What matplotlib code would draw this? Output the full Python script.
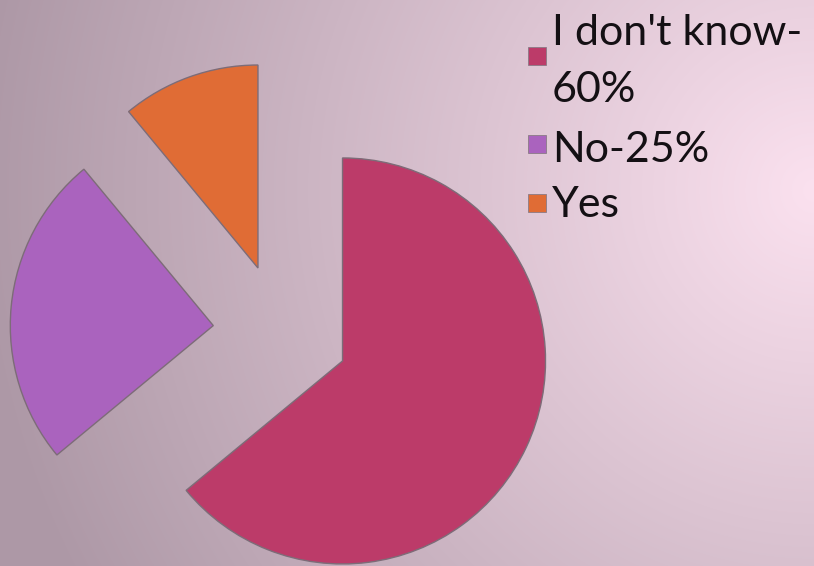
import matplotlib
matplotlib.use('Agg')
import matplotlib.pyplot as plt
import matplotlib.patches as mpatches
import numpy as np
from matplotlib.colors import to_rgb

# data
labels = ["I don't know-\n60%", "No-25%", "Yes"]
values = [64, 25, 11]
colors = ['#BC3B69', '#AA63BE', '#E06C35']

W, H = 814, 566
fig = plt.figure(figsize=(W / 100, H / 100), dpi=100)

# background: radial gradient, light pink at right, greyish mauve at left
bg = fig.add_axes([0, 0, 1, 1])
bg.axis('off')
yy, xx = np.mgrid[0:H, 0:W]
d = np.sqrt((xx - 814) ** 2 + (yy - 190) ** 2) / 840
d = np.clip(d, 0, 1)[..., None]
c0 = np.array(to_rgb('#FBE1EF'))
c1 = np.array(to_rgb('#AD98A6'))
img = c0 * (1 - d) + c1 * d
bg.imshow(img, extent=[0, W, H, 0], aspect='auto')
bg.set_xlim(0, W)
bg.set_ylim(H, 0)

# pie
r_px = 203
cx, cy = 281, 332
ax = fig.add_axes([0, 0, 1, 1])
ax.patch.set_alpha(0)
ax.pie(values, colors=colors, startangle=90, counterclock=False,
       explode=[0.335] * len(values),
       wedgeprops=dict(edgecolor='#7d6c78', linewidth=1.0))
ax.set_xlim(-cx / r_px, (W - cx) / r_px)
ax.set_ylim(-(H - cy) / r_px, cy / r_px)
ax.set_aspect('auto')
ax.axis('off')

# legend drawn by hand (baseline = last line of each label)
text_x = 552
baselines = [102, 162, 217]
marker_y = [56, 144, 203]
sq = 18
for lab, col, yb, ym in zip(labels, colors, baselines, marker_y):
    fig.patches.append(mpatches.Rectangle((528 / W, 1 - (ym + sq / 2) / H), sq / W, sq / H,
                                          transform=fig.transFigure, facecolor=col,
                                          edgecolor='#8a7a86', linewidth=0.6))
    fig.text(text_x / W, 1 - yb / H, lab, fontsize=31, family='Lato',
             color='#141014', va='baseline', ha='left', linespacing=1.6)

fig.savefig('out.png', dpi=100)
